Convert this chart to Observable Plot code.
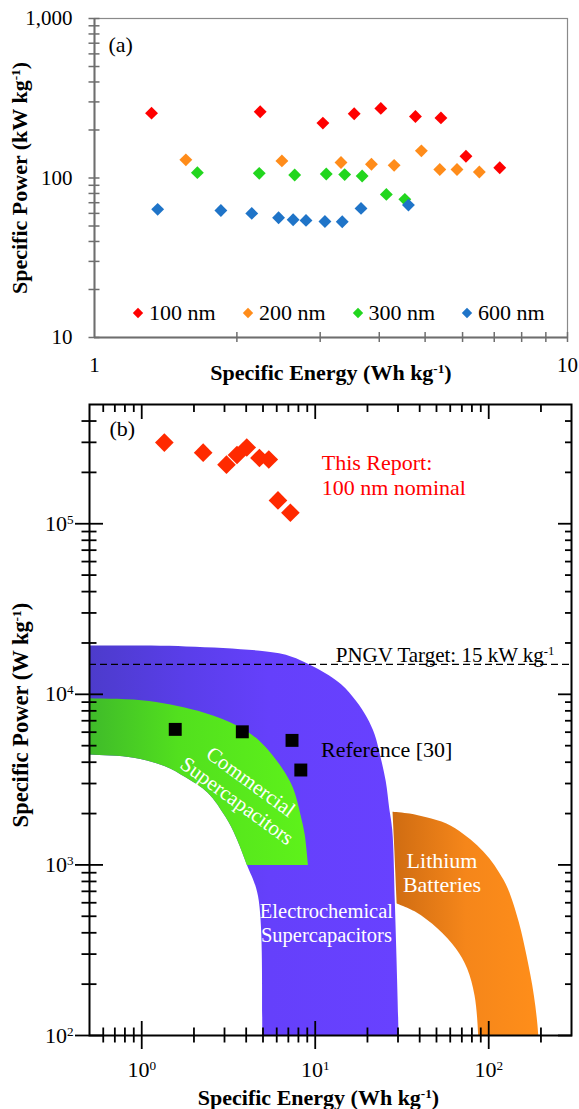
<!DOCTYPE html>
<html><head><meta charset="utf-8">
<script src="https://cdn.jsdelivr.net/npm/d3@7"></script>
<script src="https://cdn.jsdelivr.net/npm/@observablehq/plot@0.6"></script>
<style>
html,body{margin:0;padding:0;background:#fff;}
#wrap{position:relative;width:579px;height:1109px;overflow:hidden;font-family:"Liberation Serif",serif;}
#wrap svg{display:block;}
.lg{position:absolute;display:flex;align-items:center;height:26px;font-size:22px;line-height:26px;white-space:nowrap;color:#000;}
.lg svg{margin-right:5px;}
</style></head>
<body><div id="wrap"><div id="a"></div><div id="b"></div></div>
<script>
// ---------- Panel (a) data ----------
const sizes = ["100 nm", "200 nm", "300 nm", "600 nm"];
const sizeColors = ["#ff0000", "#ff8c1a", "#22d61e", "#1f74c8"];
const e100 = [1.32, 2.24, 3.04, 3.54, 4.03, 4.77, 5.40, 6.10, 7.19];
const p100 = [255, 260, 221, 253, 273, 243, 238, 137, 116];
const e200 = [1.56, 2.49, 3.32, 3.85, 4.30, 4.91, 5.37, 5.84, 6.51];
const p200 = [130, 128, 125, 122, 120, 148, 113, 113, 109];
const e300 = [1.65, 2.23, 2.65, 3.09, 3.38, 3.68, 4.14, 4.53];
const p300 = [108, 107, 104.5, 106, 105, 103, 78.9, 73.5];
const e600 = [1.36, 1.85, 2.15, 2.45, 2.63, 2.80, 3.07, 3.34, 3.66, 4.61];
const p600 = [63.6, 62.6, 60, 56.3, 54.7, 54.2, 53.4, 53.2, 64.5, 67.6];
const aYTickMarks = [10,20,30,40,50,60,70,80,90,100,200,300,400,500,600,700,800,900,1000];
const aYLabels = [10, 100, 1000];
const aXTickMarks = [2,3,4,5,6,7,8,9,10];
const aXLabels = [1, 10];

// ---------- Panel (b) data ----------
const reportEnergy = [1.35, 2.26, 3.08, 3.54, 4.03, 4.77, 5.40, 6.10, 7.19];
const reportPower = [299000, 261000, 222000, 253000, 280000, 243000, 238000, 137000, 116000];
const refEnergy = [1.56, 3.80, 7.35, 8.26];
const refPower = [6230, 6030, 5370, 3600];
const pngvTarget = [15000];
// region outlines [energy Wh/kg, power W/kg]
const electroBand = [
  [0.4,19300],[0.5,19300],[1.8,19100],[4.8,18000],[7.1,16800],[10,14350],[14.1,11460],[17.2,9140],
  [19.9,7290],[22,5820],[23.6,4440],[25.5,3090],[26.7,2150],[27.8,1600],[28.8,582],[30.2,100],[30.3,60],[30.3,60],
  [5.0,60],[5.0,60],[4.96,100],[4.68,658],[4.04,1000],[3.5,1450],[3.05,1900],[2.4,2650],[1.8,3250],[1.35,3800],[0.9,4250],[0.5,4440],[0.4,4450],[0.4,4450]
];
const commercialBand = [
  [0.4,9500],[0.5,9470],[1.1,9130],[2.29,7800],[3.6,6500],[4.79,5310],[6.43,3700],[7.45,2820],[8.22,1970],
  [8.7,1500],[9.08,1000],[9.08,1000],[4.04,1000],[4.04,1000],[3.5,1450],[3.05,1900],[2.4,2650],[1.8,3250],[1.35,3800],[0.9,4250],[0.5,4440],[0.4,4450]
];
const lithiumBand = [
  [27.9,2050],[27.9,2050],[35,2000],[43.7,1900],[57,1750],[71.4,1520],[86,1300],[100.7,1093],[115,900],[128.8,728],
  [149,463],[165,295],[182,172],[193,100],[194,60],[194,60],[86.9,60],[86.9,60],[86.9,100],[82.8,172],[75.1,247],
  [64.8,323],[50.7,424],[37.8,531],[29.5,594],[29.5,594],[28.6,1200]
];
const bMajorX = [1, 10, 100];
const bMinorX = [0.6,0.7,0.8,0.9,2,3,4,5,6,7,8,9,20,30,40,50,60,70,80,90,200];
const bMajorY = [100, 1000, 10000, 100000];
const bMinorY = [200,300,400,500,600,700,800,900,2000,3000,4000,5000,6000,7000,8000,9000,
  20000,30000,40000,50000,60000,70000,80000,90000,200000,300000,400000];

// ---------- helpers ----------
function supify(svgNode) {
  d3.select(svgNode).selectAll("text, tspan").each(function () {
    if (this.children.length) return;
    const t = this.textContent;
    if (!t.includes("^")) return;
    const parts = t.split(/\^(-?\d+)/);
    this.textContent = "";
    parts.forEach((p, i) => {
      if (!p) return;
      const ts = document.createElementNS("http://www.w3.org/2000/svg", "tspan");
      ts.textContent = p;
      if (i % 2 === 1) { ts.setAttribute("baseline-shift", "super"); ts.setAttribute("font-size", "60%"); }
      this.appendChild(ts);
    });
  });
}
const serif = "Liberation Serif, serif";

// ---------- Panel (a) ----------
const topSeries = [[e100, p100], [e200, p200], [e300, p300], [e600, p600]];
const topData = topSeries.flatMap(([es, ps], k) => es.map((e, i) => ({size: sizes[k], energy: e, power: ps[i]})));
const grayAxis = "#6e6e6e";

const chartA = Plot.plot({
  width: 579, height: 390,
  marginLeft: 94, marginRight: 12, marginTop: 18, marginBottom: 53,
  style: {fontFamily: serif, fontSize: "21px", color: "#000", background: "#fff", overflow: "visible"},
  x: {type: "log", domain: [1, 10], axis: null},
  y: {type: "log", domain: [10, 1000], axis: null},
  color: {domain: sizes, range: sizeColors},
  marks: [
    Plot.frame({stroke: "#8a8a8a", strokeWidth: 1.2}),
    Plot.ruleX([1], {stroke: grayAxis, strokeWidth: 2}),
    Plot.ruleY([10], {stroke: grayAxis, strokeWidth: 2}),
    Plot.axisY({ticks: aYTickMarks, tickSize: 11, dx: 5.5, stroke: grayAxis, strokeWidth: 1.5, fill: "none", label: null}),
    Plot.axisX({ticks: aXTickMarks, tickSize: 10, dy: -5, stroke: grayAxis, strokeWidth: 1.5, fill: "none", label: null}),
    Plot.axisY({ticks: aYLabels, tickSize: 0, tickPadding: 22, tickFormat: d3.format(","), label: null, fill: "#000"}),
    Plot.axisX({ticks: aXLabels, tickSize: 0, tickPadding: 20, tickFormat: d => String(d), label: null, fill: "#000"}),
    Plot.dot(topData, {x: "energy", y: "power", fill: "size", symbol: "diamond2", r: 5.8}),
    Plot.text(["(a)"], {frameAnchor: "top-left", dx: 14, dy: 26, lineAnchor: "middle", textAnchor: "start", fontSize: 22}),
    Plot.text(["Specific Energy (Wh kg^-1)"], {frameAnchor: "bottom", dy: 35, lineAnchor: "middle", fontWeight: "bold", fontSize: 22}),
    Plot.text(["Specific Power (kW kg^-1)"], {frameAnchor: "left", dx: -75, rotate: -90, lineAnchor: "middle", textAnchor: "middle", fontWeight: "bold", fontSize: 22})
  ]
});
supify(chartA);
document.getElementById("a").appendChild(chartA);

// legend for (a)
const legendX = [138, 248, 357.5, 467];
sizes.forEach((s, i) => {
  const item = document.createElement("div");
  item.className = "lg";
  item.style.left = (legendX[i] - 6) + "px";
  item.style.top = (313 - 13) + "px";
  item.innerHTML = `<svg width="12" height="12" viewBox="-6 -6 12 12"><path d="M0,-5.2L5.2,0L0,5.2L-5.2,0Z" fill="${sizeColors[i]}"/></svg><span>${s}</span>`;
  document.getElementById("wrap").appendChild(item);
});

// ---------- Panel (b) ----------
const reportData = reportEnergy.map((e, i) => ({energy: e, power: reportPower[i]}));
const refData = refEnergy.map((e, i) => ({energy: e, power: refPower[i]}));

const defs = () => {
  const d = d3.create("svg:defs");
  const grad = (id, stops) => {
    const lg = d.append("linearGradient").attr("id", id).attr("x1", 0).attr("x2", 1).attr("y1", 0).attr("y2", 0);
    stops.forEach(([o, c]) => lg.append("stop").attr("offset", o).attr("stop-color", c));
  };
  grad("gBlue", [[0, "#4a3bc6"], [0.35, "#5a3eea"], [0.6, "#6540fb"], [1, "#6841ff"]]);
  grad("gGreen", [[0, "#3cb42c"], [0.45, "#52e01e"], [1, "#5ef21a"]]);
  grad("gOrange", [[0, "#cf6c12"], [0.5, "#f5861a"], [1, "#ff8e1a"]]);
  return d.node();
};
const bandOpts = (fill) => ({x: d => d[0], y: d => d[1], fill, stroke: "none", curve: "catmull-rom", clip: true});
const tickStroke = {stroke: "#000", strokeWidth: 1.8, fill: "none", label: null};

const chartB = Plot.plot({
  width: 579, height: 719,
  marginLeft: 89, marginRight: 8, marginTop: 14, marginBottom: 74,
  style: {fontFamily: serif, fontSize: "22px", color: "#000", background: "#fff", overflow: "visible"},
  x: {type: "log", domain: [0.5, 300], axis: null},
  y: {type: "log", domain: [100, 500000], axis: null},
  marks: [
    defs,
    Plot.line(electroBand, bandOpts("url(#gBlue)")),
    Plot.line(lithiumBand, bandOpts("url(#gOrange)")),
    Plot.line(commercialBand, bandOpts("url(#gGreen)")),
    Plot.ruleY(pngvTarget, {stroke: "#000", strokeWidth: 1.2, strokeDasharray: "7,4"}),
    Plot.dot(refData, {x: "energy", y: "power", symbol: "square", r: 7.3, fill: "#000"}),
    Plot.dot(reportData, {x: "energy", y: "power", symbol: "diamond2", r: 8.4, fill: "#ff2a00"}),
    Plot.text(["This Report:\n100 nm nominal"], {x: [10.9], y: [194000], textAnchor: "start", lineAnchor: "middle", lineHeight: 1.14, fill: "#ff0000", fontSize: 22}),
    Plot.text(["Reference [30]"], {x: [10.8], y: [4750], textAnchor: "start", lineAnchor: "middle", fill: "#000", fontSize: 22}),
    Plot.text(["PNGV Target: 15 kW kg^-1"], {x: [239], y: [17050], textAnchor: "end", lineAnchor: "middle", fill: "#000", fontSize: 21}),
    Plot.text(["Commercial\nSupercapacitors"], {x: [3.9], y: [2720], rotate: 36, textAnchor: "middle", lineAnchor: "middle", lineHeight: 1.12, fill: "#fff", fontSize: 21}),
    Plot.text(["Electrochemical\nSupercapacitors"], {x: [11.6], y: [461], textAnchor: "middle", lineAnchor: "middle", lineHeight: 1.2, fill: "#fff", fontSize: 20.5}),
    Plot.text(["Lithium\nBatteries"], {x: [53.8], y: [909], textAnchor: "middle", lineAnchor: "middle", lineHeight: 1.1, fill: "#fff", fontSize: 22}),
    Plot.text(["(b)"], {frameAnchor: "top-left", dx: 20, dy: 24, lineAnchor: "middle", textAnchor: "start", fontSize: 22}),
    Plot.frame({stroke: "#000", strokeWidth: 2}),
    // left axis ticks (crossing)
    Plot.axisY({ticks: bMajorY, tickSize: 28, dx: 14, ...tickStroke}),
    Plot.axisY({ticks: bMinorY, tickSize: 15, dx: 7.5, ...tickStroke}),
    // right axis ticks (inward)
    Plot.axisY({anchor: "right", ticks: bMajorY, tickSize: 14, dx: -14, ...tickStroke}),
    Plot.axisY({anchor: "right", ticks: bMinorY, tickSize: 7, dx: -7, ...tickStroke}),
    // bottom axis ticks (crossing)
    Plot.axisX({ticks: bMajorX, tickSize: 28, dy: -14, ...tickStroke}),
    Plot.axisX({ticks: bMinorX, tickSize: 15, dy: -7.5, ...tickStroke}),
    // top axis ticks (inward)
    Plot.axisX({anchor: "top", ticks: bMajorX, tickSize: 14, dy: 14, ...tickStroke}),
    Plot.axisX({anchor: "top", ticks: bMinorX, tickSize: 7, dy: 7, ...tickStroke}),
    // tick labels
    Plot.axisY({ticks: bMajorY, tickSize: 0, tickPadding: 16, tickFormat: d => `10^${Math.round(Math.log10(d))}`, label: null, fill: "#000"}),
    Plot.axisX({ticks: bMajorX, tickSize: 0, tickPadding: 26, tickFormat: d => `10^${Math.round(Math.log10(d))}`, label: null, fill: "#000"}),
    Plot.text(["Specific Energy (Wh kg^-1)"], {frameAnchor: "bottom", dx: -12, dy: 62, lineAnchor: "middle", fontWeight: "bold", fontSize: 22}),
    Plot.text(["Specific Power (W kg^-1)"], {frameAnchor: "left", dx: -69, dy: -5, rotate: -90, lineAnchor: "middle", textAnchor: "middle", fontWeight: "bold", fontSize: 22.5})
  ]
});
supify(chartB);
document.getElementById("b").appendChild(chartB);
</script>
</body></html>
